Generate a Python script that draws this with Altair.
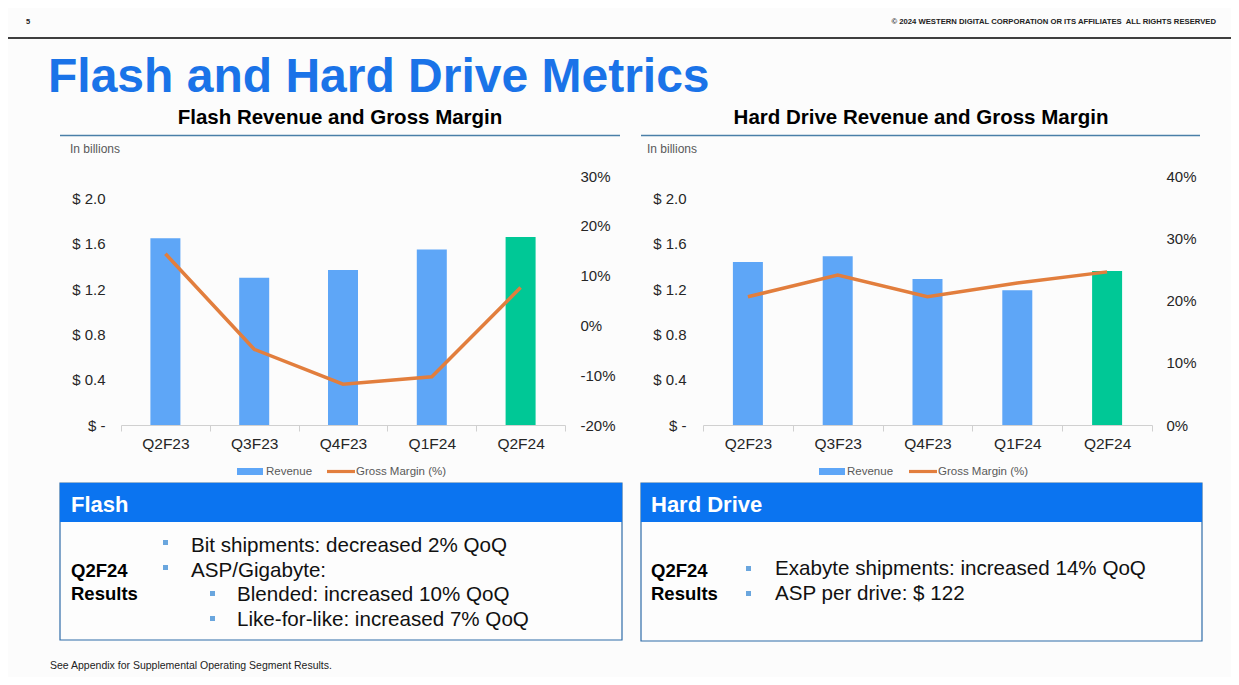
import altair as alt
import pandas as pd

# ---------------- data ----------------
quarters = ["Q2F23", "Q3F23", "Q4F23", "Q1F24", "Q2F24"]
bar_group = ["Prior", "Prior", "Prior", "Prior", "Current"]
flash_revenue = [1.65, 1.30, 1.37, 1.55, 1.66]
flash_margin = [14.4, -4.8, -11.8, -10.3, 7.6]
hdd_revenue = [1.44, 1.49, 1.29, 1.19, 1.36]
hdd_margin = [20.6, 24.1, 20.6, 22.8, 24.6]
revenue_ticks = [0, 0.4, 0.8, 1.2, 1.6, 2.0]
flash_margin_ticks = [-20, -10, 0, 10, 20, 30]
hdd_margin_ticks = [0, 10, 20, 30, 40]

flash_notes = ["Bit shipments: decreased 2% QoQ", "ASP/Gigabyte:"]
flash_subnotes = ["Blended: increased 10% QoQ", "Like-for-like: increased 7% QoQ"]
hdd_notes = ["Exabyte shipments: increased 14% QoQ", "ASP per drive: $ 122"]

# ---------------- style ----------------
FONT = "Liberation Sans"
BLUE = "#5EA6F7"
GREEN = "#00C896"
ORANGE = "#E27E3D"
TITLE_BLUE = "#1A73E8"
HEADER_BLUE = "#0B74F0"
BORDER = "#2F6CA8"
BULLET = "#6AA6DE"
BG = "#fcfcfc"

W, H = 1223, 669
OFF = 8  # page margin


def px(v):
    return v - OFF


def one():
    return pd.DataFrame({"t": [""]})


def label(text, x, y, size, color="#000000", weight="normal", align="left", baseline="alphabetic"):
    return alt.Chart(pd.DataFrame({"t": [text]})).mark_text(
        align=align, baseline=baseline, fontSize=size, fontWeight=weight,
        color=color, font=FONT
    ).encode(text="t:N", x=alt.value(px(x)), y=alt.value(px(y)))


def rect(x1, y1, x2, y2, fill, stroke=None, sw=0):
    kw = dict(fill=fill)
    if stroke:
        kw.update(stroke=stroke, strokeWidth=sw)
    return alt.Chart(one()).mark_rect(**kw).encode(
        x=alt.value(px(x1)), x2=alt.value(px(x2)), y=alt.value(px(y1)), y2=alt.value(px(y2)))


def rule(x1, y1, x2, y2, color, sw):
    return alt.Chart(one()).mark_rule(color=color, strokeWidth=sw).encode(
        x=alt.value(px(x1)), x2=alt.value(px(x2)), y=alt.value(px(y1)), y2=alt.value(px(y2)))


def panel(rev, gm, gm_domain, gm_ticks, x0, x1, left_lab_x, right_lab_x):
    df = pd.DataFrame({"Quarter": quarters, "Revenue": rev, "Margin": gm, "Group": bar_group})
    base = alt.Chart(df)
    xenc = alt.X(
        "Quarter:N", sort=quarters,
        scale=alt.Scale(domain=quarters, range=[px(x0), px(x1)], paddingInner=0, paddingOuter=0),
        axis=alt.Axis(orient="bottom", offset=px(425) - H, title=None, labelAngle=0,
                      labelFont=FONT, labelFontSize=15.5, labelColor="#262626",
                      domainColor="#d0d0d0", domainWidth=1.2, tickColor="#d0d0d0", tickSize=6,
                      tickBand="extent", labelPadding=5, grid=False))
    bars = base.mark_bar(size=30).encode(
        x=xenc,
        y=alt.Y("Revenue:Q",
                scale=alt.Scale(domain=[0, 2.2], range=[px(425), px(176)], nice=False, zero=True),
                axis=alt.Axis(orient="left", offset=-px(left_lab_x), values=revenue_ticks,
                              labelExpr="datum.value == 0 ? '$ -' : '$ ' + format(datum.value, '.1f')",
                              ticks=False, tickSize=0, domain=False, grid=False, labelPadding=0,
                              title=None, labelFont=FONT, labelFontSize=15, labelColor="#262626")),
        color=alt.Color("Group:N", scale=alt.Scale(domain=["Prior", "Current"], range=[BLUE, GREEN]),
                        legend=None),
    )
    line = base.mark_line(color=ORANGE, strokeWidth=3.5).encode(
        x=xenc,
        y=alt.Y("Margin:Q",
                scale=alt.Scale(domain=gm_domain, range=[px(425), px(176)], nice=False, zero=False),
                axis=alt.Axis(orient="right", offset=px(right_lab_x) - W, values=gm_ticks,
                              labelExpr="datum.value + '%'",
                              ticks=False, tickSize=0, domain=False, grid=False, labelPadding=0,
                              title=None, labelFont=FONT, labelFontSize=15, labelColor="#262626")),
    )
    return alt.layer(bars, line).resolve_scale(y="independent")


layers = []

# header
layers.append(rule(0, 38, 1239, 38, "#000000", 1.5))
layers.append(label("5", 26, 23.5, 7.5, weight="bold", color="#222222"))
layers.append(label("© 2024 WESTERN DIGITAL CORPORATION OR ITS AFFILIATES\u00a0 ALL RIGHTS RESERVED",
                    1216, 23.5, 7.7, weight="bold", color="#222222", align="right"))
layers.append(label("Flash and Hard Drive Metrics", 48, 92, 48, color=TITLE_BLUE, weight="bold"))

# chart headings
layers.append(label("Flash Revenue and Gross Margin", 340, 124, 20.5, weight="bold", align="center"))
layers.append(label("Hard Drive Revenue and Gross Margin", 921, 124, 20.5, weight="bold", align="center"))
layers.append(rule(60, 135.5, 620, 135.5, "#4A7FA8", 1.3))
layers.append(rule(641, 135.5, 1200, 135.5, "#4A7FA8", 1.3))
layers.append(label("In billions", 70, 149, 12, color="#595959", baseline="middle"))
layers.append(label("In billions", 647, 149, 12, color="#595959", baseline="middle"))

# panels
layers.append(panel(flash_revenue, flash_margin, [-20, 30], flash_margin_ticks, 121, 565, 105, 580))
layers.append(panel(hdd_revenue, hdd_margin, [0, 40], hdd_margin_ticks, 703, 1152, 686, 1166))

# legends
for bx, tx, ox, gx in [(237, 266, 327, 356), (819, 847, 909, 938)]:
    layers.append(rect(bx, 468, bx + 26, 475, BLUE))
    layers.append(label("Revenue", tx, 471.5, 11.5, color="#595959", baseline="middle"))
    layers.append(rule(ox, 471.5, ox + 28, 471.5, ORANGE, 3.2))
    layers.append(label("Gross Margin (%)", gx, 471.5, 11.5, color="#595959", baseline="middle"))

# boxes
layers.append(rect(60, 483, 622, 640, "#fdfdfd", BORDER, 1.2))
layers.append(rect(60, 483, 622, 522, HEADER_BLUE))
layers.append(label("Flash", 71, 511.5, 22, color="#ffffff", weight="bold"))
layers.append(label("Q2F24", 71, 577, 18.5, weight="bold"))
layers.append(label("Results", 71, 599.5, 18.5, weight="bold"))
for i, t in enumerate(flash_notes):
    yb = 551.5 + 25 * i
    layers.append(rect(163, yb - 11.5, 168, yb - 6.5, BULLET))
    layers.append(label(t, 191, yb, 20.6, color="#111111"))
for i, t in enumerate(flash_subnotes):
    yb = 601 + 25 * i
    layers.append(rect(210, yb - 10, 215, yb - 5, BULLET))
    layers.append(label(t, 237, yb, 20.6, color="#111111"))

layers.append(rect(641, 483, 1202, 641, "#fdfdfd", BORDER, 1.2))
layers.append(rect(641, 483, 1202, 522, HEADER_BLUE))
layers.append(label("Hard Drive", 651, 511.5, 22, color="#ffffff", weight="bold"))
layers.append(label("Q2F24", 651, 577, 18.5, weight="bold"))
layers.append(label("Results", 651, 599.5, 18.5, weight="bold"))
for i, t in enumerate(hdd_notes):
    yb = 575 + 25 * i
    layers.append(rect(746, yb - 9, 751, yb - 4, BULLET))
    layers.append(label(t, 775, yb, 20.6, color="#111111"))

layers.append(label("See Appendix for Supplemental Operating Segment Results.", 50, 669, 10.5, color="#222222"))

chart = alt.layer(*layers).resolve_scale(
    x="independent", y="independent", color="independent"
).properties(
    width=W, height=H, autosize=alt.AutoSizeParams(type="none"), padding=0, background=BG
).configure_view(stroke=None)

chart.save("out.html", embed_options={"renderer": "svg", "actions": False})
